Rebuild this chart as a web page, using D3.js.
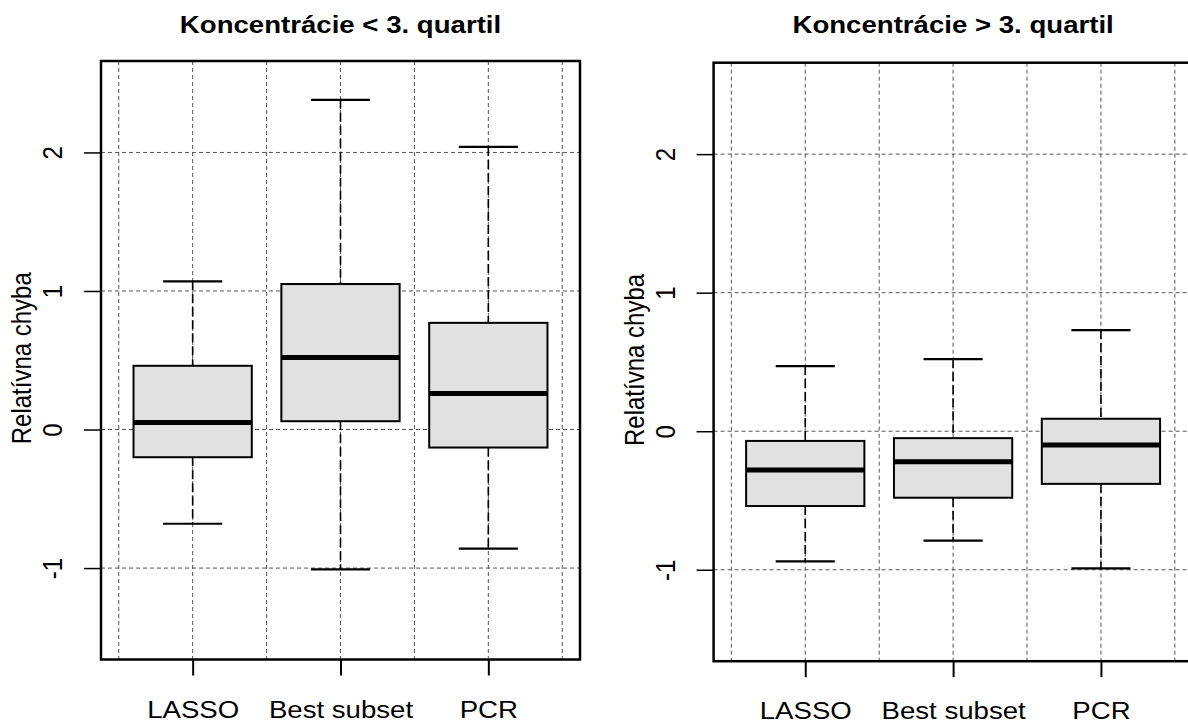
<!DOCTYPE html>
<html>
<head>
<meta charset="utf-8">
<script src="https://cdn.jsdelivr.net/npm/d3@7"></script>
<style>
  body { margin: 0; background: #fff; }
  text { font-family: "Liberation Sans", Arial, sans-serif; fill: #000; }
</style>
</head>
<body>
<script>
// data: box statistics
let methods = ["LASSO", "Best subset", "PCR"];
let panel_titles = ["Koncentrácie < 3. quartil", "Koncentrácie > 3. quartil"];
let y_label = "Relatívna chyba";
let y_ticks = [-1, 0, 1, 2];

// [left panel, right panel], one value per method
let whisker_low  = [[-0.68, -1.01, -0.86], [-0.94, -0.79, -0.99]];
let quart_1      = [[-0.20,  0.06, -0.13], [-0.54, -0.48, -0.38]];
let medians      = [[ 0.05,  0.52,  0.26], [-0.28, -0.22, -0.10]];
let quart_3      = [[ 0.46,  1.05,  0.77], [-0.07, -0.05,  0.09]];
let whisker_high = [[ 1.07,  2.38,  2.04], [ 0.47,  0.52,  0.73]];

// layout
let width = 1188, height = 724;
let panel_pos = [{left: 101, top: 61}, {left: 713.6, top: 62.7}];
let p_width = 479, p_height = 598.5;
let stretch = 1.15;   // glyphs in the picture are a bit wider than tall

let svg = d3.select("body").append("svg")
            .attr("width", width)
            .attr("height", height);

let x = d3.scaleLinear().domain([0.38, 3.62]).range([0, p_width]);
let y = d3.scaleLinear().domain([-1.66, 2.66]).range([p_height, 0]);

function draw_panel(k) {
    let pos = panel_pos[k];
    let g = svg.append("g").attr("transform", `translate(${pos.left},${pos.top})`);

    let stats = methods.map((m, i) => ({
        name: m, pos: i + 1,
        lo: whisker_low[k][i], q1: quart_1[k][i], med: medians[k][i],
        q3: quart_3[k][i], hi: whisker_high[k][i]
    }));

    // grid
    g.selectAll(".vgrid")
     .data(d3.range(0.5, 3.51, 0.5))
     .join("line")
     .attr("x1", d => x(d)).attr("x2", d => x(d))
     .attr("y1", 0).attr("y2", p_height)
     .style("stroke", "#555").style("stroke-width", 1)
     .style("stroke-dasharray", "4,3");

    g.selectAll(".hgrid")
     .data(y_ticks)
     .join("line")
     .attr("x1", 0).attr("x2", p_width)
     .attr("y1", d => y(d)).attr("y2", d => y(d))
     .style("stroke", "#555").style("stroke-width", 1)
     .style("stroke-dasharray", "4,3");

    // whiskers
    let box = g.selectAll(".box").data(stats).join("g");

    box.append("line")
       .attr("x1", d => x(d.pos)).attr("x2", d => x(d.pos))
       .attr("y1", d => y(d.hi)).attr("y2", d => y(d.q3))
       .style("stroke", "#000").style("stroke-width", 1.6)
       .style("stroke-dasharray", "9,4");
    box.append("line")
       .attr("x1", d => x(d.pos)).attr("x2", d => x(d.pos))
       .attr("y1", d => y(d.q1)).attr("y2", d => y(d.lo))
       .style("stroke", "#000").style("stroke-width", 1.6)
       .style("stroke-dasharray", "9,4");

    // caps
    ["hi", "lo"].forEach(key => {
        box.append("line")
           .attr("x1", d => x(d.pos - 0.2)).attr("x2", d => x(d.pos + 0.2))
           .attr("y1", d => y(d[key])).attr("y2", d => y(d[key]))
           .style("stroke", "#000").style("stroke-width", 2.2);
    });

    // boxes
    box.append("rect")
       .attr("x", d => x(d.pos - 0.4))
       .attr("width", x(0.8) - x(0))
       .attr("y", d => y(d.q3))
       .attr("height", d => y(d.q1) - y(d.q3))
       .style("fill", "#e1e1e1")
       .style("stroke", "#000").style("stroke-width", 2);

    box.append("line")
       .attr("x1", d => x(d.pos - 0.4)).attr("x2", d => x(d.pos + 0.4))
       .attr("y1", d => y(d.med)).attr("y2", d => y(d.med))
       .style("stroke", "#000").style("stroke-width", 5);

    // border
    g.append("rect")
     .attr("width", p_width).attr("height", p_height)
     .style("fill", "none").style("stroke", "#000").style("stroke-width", 2.5);

    // axes
    let x_axis = d3.axisBottom(x)
                   .tickValues([1, 2, 3])
                   .tickFormat(d => methods[d - 1])
                   .tickSize(16);
    let xa = g.append("g").attr("transform", `translate(0,${p_height})`).call(x_axis);
    xa.select(".domain").remove();
    xa.selectAll("line").style("stroke", "#000").style("stroke-width", 2);
    xa.selectAll("text")
      .attr("y", null).attr("dy", null)
      .attr("transform", `translate(0,58) scale(${stretch},1)`)
      .style("font-size", "24px")
      .style("fill", "#000");

    let y_axis = d3.axisLeft(y)
                   .tickValues(y_ticks)
                   .tickFormat(d => String(d))
                   .tickSize(17);
    let ya = g.append("g").call(y_axis);
    ya.select(".domain").remove();
    ya.selectAll("line").style("stroke", "#000").style("stroke-width", 1.5);
    ya.selectAll("text")
      .attr("x", null).attr("dy", null)
      .attr("text-anchor", "middle")
      .attr("transform", `translate(-39,0) scale(${stretch},1) rotate(-90)`)
      .style("font-size", "24px")
      .style("fill", "#000");

    // labels
    g.append("text")
     .attr("text-anchor", "middle")
     .attr("transform", `translate(-70,${p_height / 2 - 2}) scale(${stretch},1) rotate(-90)`)
     .style("font-size", "24px")
     .text(y_label);

    g.append("text")
     .attr("text-anchor", "middle")
     .attr("transform", `translate(${p_width / 2},${32.5 - pos.top}) scale(${stretch},1)`)
     .style("font-size", "24px")
     .style("font-weight", "bold")
     .text(panel_titles[k]);
}

draw_panel(0);
draw_panel(1);
</script>
</body>
</html>
